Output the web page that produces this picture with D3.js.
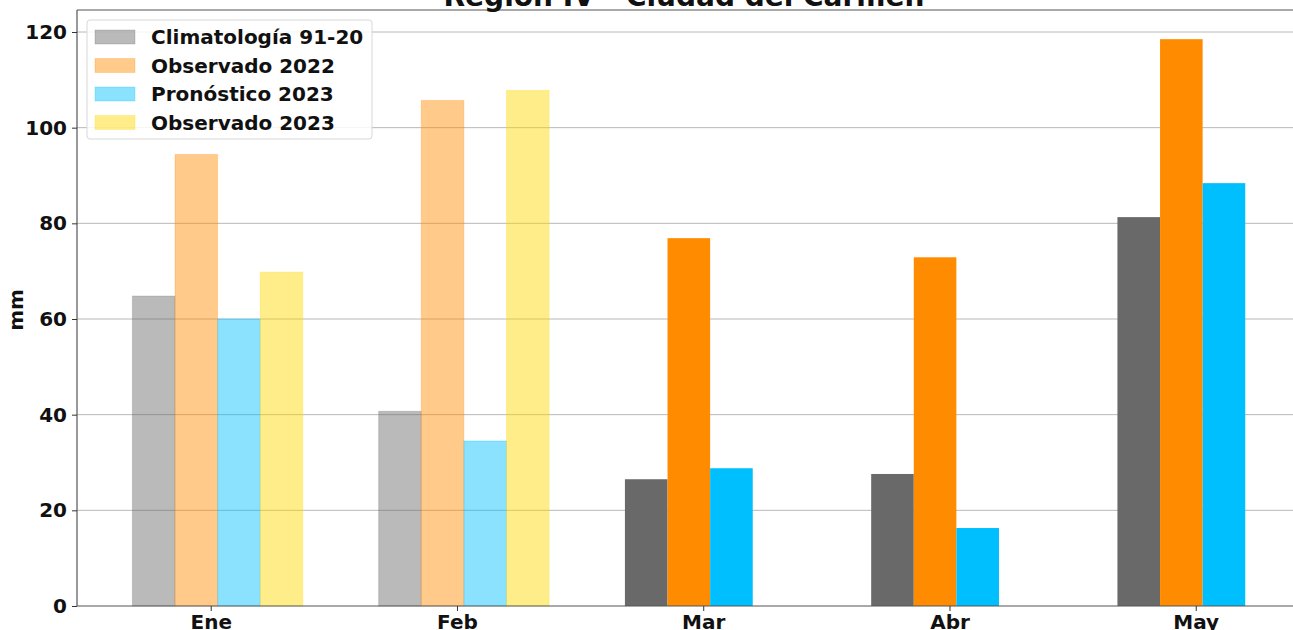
<!DOCTYPE html>
<html><head><meta charset="utf-8">
<script src="https://cdn.jsdelivr.net/npm/d3@7"></script>
<style>body{margin:0;background:#fff;overflow:hidden}svg{display:block}text{font-family:"DejaVu Sans",sans-serif;font-weight:bold}</style>
</head><body>
<svg id="c" width="1293" height="630"></svg>
<script>
const months = ["Ene", "Feb", "Mar", "Abr", "May"];
const seriesNames = ["Climatología 91-20", "Observado 2022", "Pronóstico 2023", "Observado 2023"];
const climatologia = [64.8, 40.7, 26.5, 27.6, 81.3];
const observado2022 = [94.4, 105.7, 76.9, 72.9, 118.5];
const pronostico2023 = [60.0, 34.5, 28.8, 16.3, 88.4];
const observado2023 = [69.8, 107.8, null, null, null];
const yTicks = [0, 20, 40, 60, 80, 100, 120];
const title = "Región IV - Ciudad del Carmen";

const colors = ["#696969", "#FF8C00", "#00BFFF", "#FFD700"];
const faded = [true, true, false, false, false]; // first months drawn translucent
const series = [climatologia, observado2022, pronostico2023, observado2023];

const svg = d3.select("#c");
const L = 77, T = 10, B = 606;
const x = d3.scaleLinear().domain([-0.543, 4.6]).range([L, 1343.5]);
const y = d3.scaleLinear().domain([0, 124.6]).range([B, T]);
const bw = 0.173, off0 = -0.318;

// grid
svg.append("g").selectAll("line").data(yTicks.slice(1)).join("line")
  .attr("x1", L).attr("x2", 1293).attr("y1", d => y(d)).attr("y2", d => y(d))
  .attr("stroke", "#b0b0b0").attr("stroke-width", 0.9);

// bars
series.forEach((vals, k) => {
  svg.append("g").selectAll("rect").data(vals.map((v, i) => ({v, i}))
    .filter(d => d.v !== null)).join("rect")
    .attr("x", d => x(d.i + off0 + k * bw))
    .attr("width", d => x(bw) - x(0))
    .attr("y", d => y(d.v))
    .attr("height", d => y(0) - y(d.v))
    .attr("fill", colors[k])
    .attr("fill-opacity", d => faded[d.i] ? 0.46 : 1)
    .attr("stroke", colors[k])
    .attr("stroke-opacity", d => faded[d.i] ? 0.25 : 0)
    .attr("stroke-width", 1);
});

// axes
const yAxis = d3.axisLeft(y).tickValues(yTicks).tickSize(5).tickPadding(5);
const gy = svg.append("g").attr("transform", `translate(${L},0)`).call(yAxis);
gy.select(".domain").attr("stroke", "#555").attr("stroke-width", 1.2).attr("d", `M-0,${T}V${B}`);
gy.selectAll(".tick line").attr("stroke", "#333");
gy.selectAll("text").attr("font-size", 20).attr("fill", "#111");

const xAxis = d3.axisBottom(x).tickValues(d3.range(months.length)).tickFormat(i => months[i]).tickSize(5).tickPadding(4);
const gx = svg.append("g").attr("transform", `translate(0,${B})`).call(xAxis);
gx.select(".domain").attr("stroke", "#555").attr("stroke-width", 1.2).attr("d", `M${L},0H1343`);
gx.selectAll(".tick line").attr("stroke", "#333");
gx.selectAll("text").attr("font-size", 20).attr("fill", "#111");

// top spine
svg.append("line").attr("x1", L).attr("x2", 1293).attr("y1", T).attr("y2", T).attr("stroke", "#555").attr("stroke-width", 1.2);

// y label
svg.append("text").attr("transform", "translate(23,310) rotate(-90)")
  .attr("text-anchor", "middle").attr("font-size", 20).attr("fill", "#111").text("mm");

// title
svg.append("text").attr("x", 684).attr("y", 6).attr("text-anchor", "middle")
  .attr("font-size", 28).attr("fill", "#111").text(title);

// legend
const lg = svg.append("g");
lg.append("rect").attr("x", 87).attr("y", 20).attr("width", 285).attr("height", 119)
  .attr("rx", 3).attr("fill", "#fff").attr("fill-opacity", 0.85).attr("stroke", "#d8d8d8");
seriesNames.forEach((n, k) => {
  const cy = 37 + k * 28.5;
  lg.append("rect").attr("x", 95).attr("y", cy - 7).attr("width", 40).attr("height", 14)
    .attr("fill", colors[k]).attr("fill-opacity", 0.46).attr("stroke", colors[k]).attr("stroke-opacity", 0.25);
  lg.append("text").attr("x", 151).attr("y", cy + 7).attr("font-size", 20).attr("fill", "#111").text(n);
});
</script>
</body></html>
